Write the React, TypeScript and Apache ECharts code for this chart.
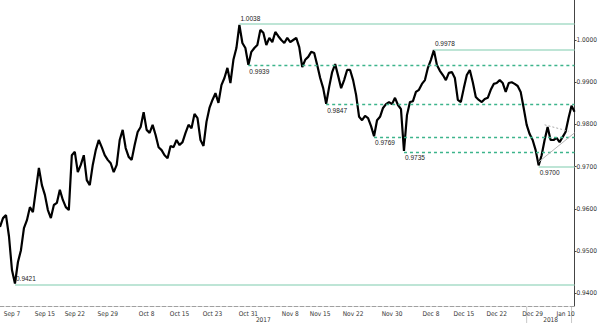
import React, { useEffect, useRef } from 'react';
import * as echarts from 'echarts';

// Price trace, one reading every ~half trading day (Sep 6 2017 .. Jan 11 2018)
const prices: number[] = [
  0.9557, 0.9578, 0.9585, 0.9535, 0.9455, 0.9423, 0.9474, 0.9502, 0.9554, 0.9573,
  0.9604, 0.9592, 0.9645, 0.9697, 0.9656, 0.9633, 0.9597, 0.9578, 0.9609, 0.9614,
  0.9645, 0.9621, 0.9604, 0.9597, 0.9727, 0.9735, 0.9687, 0.9704, 0.9727, 0.9668,
  0.9656, 0.9704, 0.9739, 0.9763, 0.9746, 0.9727, 0.9716, 0.9708, 0.9687, 0.9704,
  0.9763, 0.9787, 0.9744, 0.9723, 0.9716, 0.9751, 0.9782, 0.9794, 0.9829, 0.9787,
  0.9780, 0.9799, 0.9775, 0.9746, 0.9739, 0.9727, 0.9720, 0.9749, 0.9746, 0.9763,
  0.9751, 0.9758, 0.9780, 0.9799, 0.9791, 0.9825, 0.9815, 0.9763, 0.9749, 0.9806,
  0.9839, 0.9858, 0.9874, 0.9851, 0.9893, 0.9910, 0.9934, 0.9898, 0.9953, 0.9981,
  1.0036, 0.9993, 0.9981, 0.9941, 0.9972, 0.9981, 0.9988, 1.0024, 1.0017, 0.9988,
  1.0005, 0.9995, 1.0019, 1.0009, 1.0000, 0.9993, 1.0005, 0.9995, 1.0000, 1.0005,
  0.9983, 0.9936, 0.9953, 0.9960, 0.9972, 0.9969, 0.9941, 0.9910, 0.9886, 0.9849,
  0.9889, 0.9924, 0.9943, 0.9915, 0.9886, 0.9905, 0.9929, 0.9929, 0.9905, 0.9870,
  0.9818, 0.9810, 0.9820, 0.9815, 0.9796, 0.9772, 0.9810, 0.9818, 0.9839, 0.9848,
  0.9853, 0.9848, 0.9863, 0.9846, 0.9836, 0.9737, 0.9822, 0.9853, 0.9855, 0.9877,
  0.9882, 0.9896, 0.9905, 0.9934, 0.9953, 0.9976, 0.9941, 0.9927, 0.9917, 0.9905,
  0.9922, 0.9924, 0.9910, 0.9858, 0.9853, 0.9886, 0.9917, 0.9929, 0.9900, 0.9865,
  0.9858, 0.9853, 0.9860, 0.9863, 0.9882, 0.9896, 0.9898, 0.9905, 0.9898, 0.9877,
  0.9898, 0.9900, 0.9896, 0.9891, 0.9877, 0.9839, 0.9799, 0.9777, 0.9763, 0.9739,
  0.9703, 0.9727, 0.9763, 0.9794, 0.9763, 0.9763, 0.9768, 0.9758, 0.9770, 0.9782,
  0.9815, 0.9844, 0.9830,
];

// x-axis date labels and the slot each one sits on
const xTickLabels = ['Sep 7', 'Sep 15', 'Sep 22', 'Sep 29', 'Oct 8', 'Oct 15', 'Oct 23', 'Oct 31', 'Nov 8',
  'Nov 15', 'Nov 22', 'Nov 30', 'Dec 8', 'Dec 15', 'Dec 22', 'Dec 29', 'Jan 10'];
const xTickSlots = [4, 15, 25, 36, 49, 60, 71, 83, 97, 107, 118, 131, 144, 155, 166, 178, 189];

const yTicks = [0.94, 0.95, 0.96, 0.97, 0.98, 0.99, 1.0];

// support / resistance levels
const levelValues = [1.0038, 0.9939, 0.9978, 0.9847, 0.9769, 0.9735, 0.9700, 0.9421];
const levelStartSlots = [80, 83, 145, 109, 125, 135, 180, 5];
const levelLabelSide = ['top', 'bottom', 'top', 'bottom', 'bottom', 'bottom', 'bottom', 'top'];
const levelSolid = [true, false, true, false, false, false, true, true];

// triangle trend lines [slot, value]
const trendSupport: [number, number][] = [[180, 0.9711], [192, 0.9780]];
const trendResistance: [number, number][] = [[182, 0.9799], [190, 0.9784]];

const lastPrice = 0.9830;
const yearLabels = ['2017', '2018'];
const yearBreakSlot = 176;
const lastMarkerSlot = 191;

const AXIS_FONT = "'Liberation Sans Narrow', 'DejaVu Sans Condensed', 'Liberation Sans', sans-serif";
const NOTE_FONT = "'Liberation Sans', Arial, sans-serif";

export default function App() {
  const ref = useRef<HTMLDivElement>(null);

  useEffect(() => {
    if (!ref.current) return;
    const chart = echarts.init(ref.current, undefined, { renderer: 'svg' });
    const slots = prices.map((_, i) => 's' + i);
    const labelMap = new Map<number, string>();
    xTickSlots.forEach((s, i) => labelMap.set(s, xTickLabels[i]));
    const last = prices.length - 1;

    const solidLevels: any[] = [];
    const dashedLevels: any[] = [];
    levelValues.forEach((v, i) => {
      const item = [
        {
          coord: [levelStartSlots[i], v],
          label: {
            show: true,
            position: levelLabelSide[i] === 'top' ? 'insideStartTop' : 'insideStartBottom',
            formatter: v.toFixed(4),
            color: '#222',
            fontSize: 6.5,
            fontFamily: NOTE_FONT,
            distance: [1, 2],
          },
        },
        { coord: [last, v] },
      ];
      (levelSolid[i] ? solidLevels : dashedLevels).push(item);
    });

    const option: any = {
      animation: false,
      grid: { left: 0, right: 22, top: 0, bottom: 17 },
      xAxis: {
        type: 'category',
        data: slots,
        boundaryGap: false,
        axisLine: { show: true, lineStyle: { color: '#a0a0a0', width: 1, type: [4, 2] } },
        axisTick: { show: false },
        axisLabel: {
          interval: (i: number) => labelMap.has(i),
          formatter: (_: string, i: number) => labelMap.get(i) || '',
          fontSize: 6.5,
          fontFamily: AXIS_FONT,
          color: '#333',
          margin: 4,
        },
        splitLine: { show: false },
      },
      yAxis: {
        type: 'value',
        position: 'right',
        min: 0.93697,
        max: 1.00948,
        scale: true,
        axisLine: { show: true, lineStyle: { color: '#444', width: 1 } },
        axisTick: { show: true, length: 2, lineStyle: { color: '#444' }, customValues: yTicks },
        axisLabel: {
          customValues: yTicks,
          formatter: (v: number) => v.toFixed(4),
          fontSize: 6.5,
          fontFamily: AXIS_FONT,
          color: '#333',
          margin: 2,
        },
        splitLine: { show: false },
      },
      series: [
        {
          type: 'line',
          data: [],
          silent: true,
          markLine: {
            silent: true,
            symbol: ['none', 'none'],
            lineStyle: { color: '#a9ddc9', width: 1.5, type: 'solid' },
            data: solidLevels,
          },
        },
        {
          type: 'line',
          data: [],
          silent: true,
          markLine: {
            silent: true,
            symbol: ['none', 'none'],
            lineStyle: { color: '#3cb48b', width: 1.3, type: [3, 3] },
            data: dashedLevels,
          },
        },
        {
          type: 'line',
          data: [],
          silent: true,
          markLine: {
            silent: true,
            symbol: ['none', 'none'],
            label: { show: false },
            data: [
              [{ coord: trendSupport[0], lineStyle: { color: '#b5b5b5', width: 1, type: 'solid' } }, { coord: trendSupport[1] }],
              [{ coord: trendResistance[0], lineStyle: { color: '#aaaaaa', width: 1, type: [2, 2] } }, { coord: trendResistance[1] }],
            ],
          },
        },
        {
          type: 'line',
          data: prices,
          symbol: 'none',
          lineStyle: { color: '#000', width: 2.2 },
          markLine: {
            silent: true,
            symbol: ['none', 'none'],
            data: [
              {
                yAxis: lastPrice,
                lineStyle: { opacity: 0, width: 0 },
                label: {
                  show: true,
                  position: 'end',
                  formatter: lastPrice.toFixed(4),
                  backgroundColor: '#000',
                  color: '#fff',
                  fontSize: 6,
                  lineHeight: 6,
                  fontFamily: AXIS_FONT,
                  padding: [1, 2, 1, 2],
                  distance: 2,
                },
              },
            ],
          },
        },
      ],
    };
    chart.setOption(option);

    const px = (slot: number) => (chart.convertToPixel({ xAxisIndex: 0 }, slot) as number);
    const x0 = px(0);
    const xb = px(yearBreakSlot);
    const xe = px(last);
    const xm = px(lastMarkerSlot);
    const axisY = 306;
    chart.setOption({
      graphic: [
        { type: 'line', shape: { x1: xb, y1: axisY + 1, x2: xb, y2: 323 }, style: { stroke: '#c8c8c8', lineWidth: 1 } },
        { type: 'line', shape: { x1: xm, y1: axisY + 1, x2: xm, y2: 323 }, style: { stroke: '#c8c8c8', lineWidth: 1 } },
        {
          type: 'text', x: (x0 + xb) / 2, y: 320,
          style: { text: yearLabels[0], fontSize: 6.5, fontFamily: AXIS_FONT, fill: '#333', align: 'center', verticalAlign: 'middle' },
        },
        {
          type: 'text', x: (xb + xe) / 2, y: 320,
          style: { text: yearLabels[1], fontSize: 6.5, fontFamily: AXIS_FONT, fill: '#333', align: 'center', verticalAlign: 'middle' },
        },
      ],
    });

    return () => chart.dispose();
  }, []);

  return (
    <div
      ref={ref}
      style={{ position: 'fixed', left: 0, top: 0, width: 600, height: 323, background: '#fff' }}
    />
  );
}
